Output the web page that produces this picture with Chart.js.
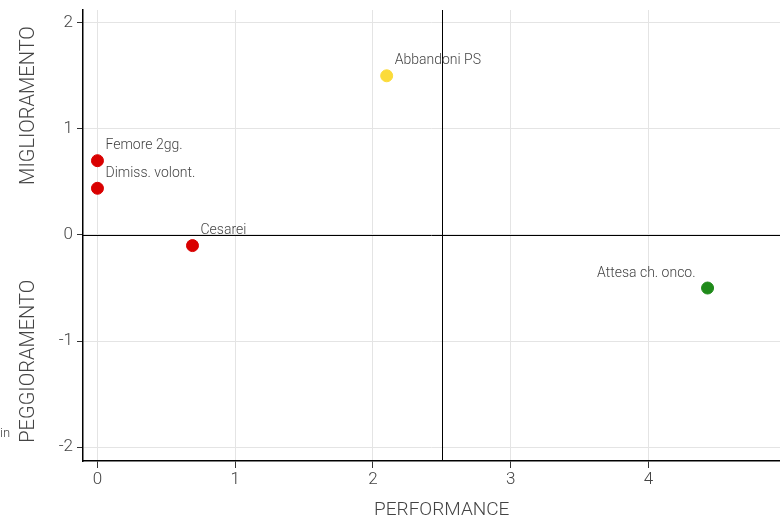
<!DOCTYPE html>
<html>
<head>
<meta charset="utf-8">
<script src="https://cdn.jsdelivr.net/npm/chart.js@4"></script>
<style>
  html, body { margin: 0; padding: 0; background: #fff; }
  #wrap { width: 780px; height: 517px; }
</style>
</head>
<body>
<div id="wrap"><canvas id="grafico"></canvas></div>
<script>
// indicatori: performance (x) e variazione (y)
const indicatori = ["Femore 2gg.", "Dimiss. volont.", "Cesarei", "Abbandoni PS", "Attesa ch. onco."];
const performance = [0, 0, 0.69, 2.1, 4.43];
const variazione = [0.7, 0.44, -0.1, 1.5, -0.5];
const colori = ["#d90000", "#d90000", "#d90000", "#fbdb3a", "#1f8a1a"];
const xTicks = [0, 1, 2, 3, 4];
const yTicks = [-2, -1, 0, 1, 2];
const sogliaX = 2.5;
const sogliaY = 0;

const testo = "#444";
const font = "Roboto";

// etichette a sinistra per i punti vicino al bordo destro
const etichetteSinistra = ["Attesa ch. onco."];

const punti = performance.map((x, i) => ({ x: x, y: variazione[i] }));

const pluginTesti = {
  id: "testi",
  afterDatasetsDraw(chart) {
    const ctx = chart.ctx;
    const xs = chart.scales.x, ys = chart.scales.y;
    const area = chart.chartArea;
    ctx.save();

    // linee soglia
    ctx.strokeStyle = "#000";
    ctx.lineWidth = 1;
    const px = Math.round(xs.getPixelForValue(sogliaX)) + 0.5;
    const py = Math.round(ys.getPixelForValue(sogliaY)) + 0.5;
    ctx.beginPath();
    ctx.moveTo(px, area.top); ctx.lineTo(px, area.bottom);
    ctx.moveTo(area.left, py); ctx.lineTo(area.right, py);
    ctx.stroke();

    // etichette dei punti
    ctx.font = "300 14px " + font;
    ctx.fillStyle = testo;
    ctx.textBaseline = "middle";
    indicatori.forEach((nome, i) => {
      const x = xs.getPixelForValue(performance[i]);
      const y = ys.getPixelForValue(variazione[i]);
      if (etichetteSinistra.includes(nome)) {
        ctx.textAlign = "right";
        ctx.fillText(nome, x - 12, y - 15);
      } else {
        ctx.textAlign = "left";
        ctx.fillText(nome, x + 8, y - 15);
      }
    });

    // titoli assi
    ctx.font = "300 19px " + font;
    ctx.fillStyle = testo;
    ctx.textAlign = "center";
    ctx.textBaseline = "middle";
    ctx.fillText("PERFORMANCE", (xs.getPixelForValue(sogliaX)), 510);

    ctx.font = "300 20px " + font;
    ctx.save();
    ctx.translate(29, ys.getPixelForValue(1.22));
    ctx.rotate(-Math.PI / 2);
    ctx.fillText("MIGLIORAMENTO", 0, 0);
    ctx.restore();
    ctx.save();
    ctx.translate(29, ys.getPixelForValue(-1.19));
    ctx.rotate(-Math.PI / 2);
    ctx.fillText("PEGGIORAMENTO", 0, 0);
    ctx.restore();

    ctx.font = "300 13px " + font;
    ctx.textAlign = "left";
    ctx.fillText("in", 0, 434);
    ctx.restore();
  }
};

new Chart(document.getElementById("grafico"), {
  type: "scatter",
  data: {
    datasets: [{
      data: punti,
      backgroundColor: colori,
      borderColor: colori,
      pointRadius: 6,
      pointHoverRadius: 6
    }]
  },
  options: {
    responsive: true,
    maintainAspectRatio: false,
    animation: false,
    layout: { autoPadding: false, padding: { top: 10, right: 0, left: 0, bottom: 0 } },
    plugins: { legend: { display: false }, tooltip: { enabled: false } },
    scales: {
      x: {
        type: "linear",
        min: -0.105,
        max: 4.956,
        afterBuildTicks: s => { s.ticks = xTicks.map(v => ({ value: v })); },
        afterFit: s => { s.height = 56; s.paddingLeft = 0; s.paddingRight = 0; },
        grid: { color: "#e4e4e4", tickColor: "#333", tickLength: 7 },
        border: { color: "#000", width: 1.5 },
        ticks: { color: testo, padding: 2, font: { family: font, size: 17, weight: 300 } }
      },
      y: {
        type: "linear",
        min: -2.13,
        max: 2.12,
        afterBuildTicks: s => { s.ticks = yTicks.map(v => ({ value: v })); },
        afterFit: s => { s.width = 83; s.paddingTop = 0; s.paddingBottom = 0; },
        grid: { color: "#e4e4e4", tickColor: "#333", tickLength: 6 },
        border: { color: "#000", width: 1.5 },
        ticks: { color: testo, padding: 4, font: { family: font, size: 17, weight: 300 } }
      }
    }
  },
  plugins: [pluginTesti]
});
</script>
</body>
</html>
